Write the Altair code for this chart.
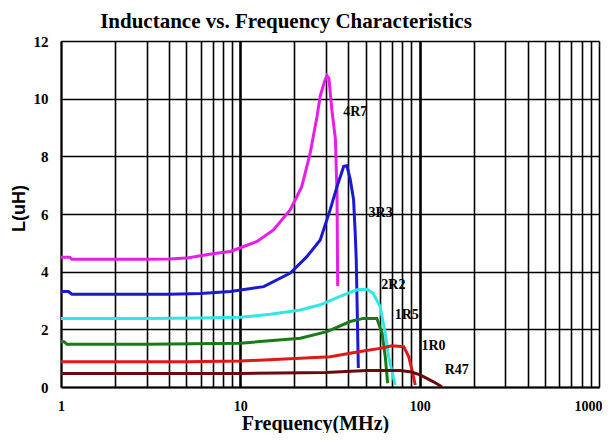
import altair as alt
import pandas as pd

# ---- data ----
series_names = ["4R7", "3R3", "2R2", "1R5", "1R0", "R47"]
series_colors = ["#e81ee8", "#1a1ad0", "#33e6e6", "#1a7a1a", "#e01818", "#6b0a0a"]

f_4r7 = [1, 1.12, 1.15, 2, 3, 4, 5, 6, 7, 8.8, 10, 12.4, 15.3, 19, 22, 24.5, 26.8, 27.9, 29.5, 30.4, 31.2, 32.4, 33.9, 34.6, 34.9]
L_4r7 = [4.5, 4.5, 4.43, 4.43, 4.43, 4.44, 4.47, 4.55, 4.62, 4.7, 4.83, 5.05, 5.45, 6.15, 6.95, 8.1, 9.4, 10.1, 10.6, 10.8, 10.7, 9.6, 8.6, 6.7, 3.5]

f_3r3 = [1, 1.1, 1.15, 2, 4, 6, 8.8, 13.5, 19, 23.5, 27.9, 31.7, 34.6, 37.7, 39.3, 41, 42.8, 43.7, 44.3, 45.5]
L_3r3 = [3.31, 3.31, 3.22, 3.22, 3.22, 3.24, 3.31, 3.48, 3.95, 4.52, 5.1, 6.15, 6.95, 7.65, 7.67, 7.2, 6.5, 5.35, 4.4, 0.66]

f_2r2 = [1, 3, 6, 10, 14.7, 21.6, 27.9, 36, 44.7, 50.8, 55, 60.2, 64.3, 67.1, 73]
L_2r2 = [2.38, 2.38, 2.39, 2.42, 2.52, 2.67, 2.85, 3.14, 3.37, 3.39, 3.25, 2.79, 1.86, 1.05, 0.07]

f_1r5 = [1, 1.04, 1.08, 3, 10, 21.6, 30.4, 41, 48.4, 57.7, 61.7, 64.3, 66.3]
L_1r5 = [1.57, 1.57, 1.48, 1.48, 1.52, 1.69, 1.92, 2.27, 2.38, 2.38, 1.86, 1.05, 0.13]

f_1r0 = [1, 5, 10, 21.6, 31.7, 46.6, 60.2, 70, 81.5, 86.9, 90.6, 94.5]
L_1r0 = [0.88, 0.88, 0.9, 1.0, 1.05, 1.23, 1.34, 1.43, 1.4, 1.05, 0.59, 0.07]

f_r47 = [1, 10, 30, 50.8, 78.1, 90, 100.6, 119.5, 133]
L_r47 = [0.47, 0.47, 0.5, 0.57, 0.57, 0.52, 0.42, 0.18, 0.01]

label_f = [43.7, 60.6, 71.4, 84.8, 119.4, 161]
label_L = [9.55, 6.04, 3.54, 2.5, 1.42, 0.59]

x_decades = [1, 10, 100, 1000]
y_ticks = [0, 2, 4, 6, 8, 10, 12]
x_grid = [m * d for d in [1, 10, 100] for m in range(1, 10)] + [1000]

# ---- build tables ----
rows = []
for name, fs, ls in zip(series_names,
                        [f_4r7, f_3r3, f_2r2, f_1r5, f_1r0, f_r47],
                        [L_4r7, L_3r3, L_2r2, L_1r5, L_1r0, L_r47]):
    for i, (f, l) in enumerate(zip(fs, ls)):
        rows.append({"series": name, "f": f, "L": l, "i": i})
df = pd.DataFrame(rows)
lab = pd.DataFrame({"series": series_names, "f": label_f, "L": label_L})

serif = "Liberation Serif"

x_scale = alt.Scale(type="log", domain=[1, 1000])
y_scale = alt.Scale(domain=[0, 12])

x_axis = alt.Axis(
    values=x_grid,
    labelExpr="datum.value == 1 || datum.value == 10 || datum.value == 100 || datum.value == 1000 ? format(datum.value, 'd') : ''",
    labelOverlap=False, labelFlush=False,
    labelFont=serif, labelFontSize=14, labelFontWeight="bold", labelColor="black",
    labelPadding=12, labelBaseline="top",
    labelOffset={"condition": {"test": "datum.value == 1000", "value": -11}, "value": 0},
    ticks=False,
    grid=True, gridColor="black",
    gridWidth={"condition": {"test": "datum.value == 10 || datum.value == 100", "value": 2.6}, "value": 1.6},
    domainColor="black", domainWidth=2,
    title="Frequency(MHz)", titleFont=serif, titleFontSize=20, titleFontWeight="bold",
    titleColor="black", titleX=254, titleY=42, titleBaseline="alphabetic",
)
y_axis = alt.Axis(
    values=y_ticks,
    labelFont=serif, labelFontSize=15, labelFontWeight="bold", labelColor="black",
    labelPadding=13, ticks=False,
    grid=True, gridColor="black", gridWidth=1.6,
    domainColor="black", domainWidth=2,
    title="L(uH)", titleFont="Liberation Sans", titleFontSize=18, titleFontWeight="bold",
    titleColor="black", titleX=-42, titleY=167, titleAngle=-90,
    titleAlign="center", titleBaseline="middle",
)

lines = alt.Chart(df).mark_line(strokeWidth=3, clip=True).encode(
    x=alt.X("f:Q", scale=x_scale, axis=x_axis),
    y=alt.Y("L:Q", scale=y_scale, axis=y_axis),
    color=alt.Color("series:N", scale=alt.Scale(domain=series_names, range=series_colors), legend=None),
    order=alt.Order("i:Q"),
)

labels = alt.Chart(lab).mark_text(font=serif, fontSize=14, fontWeight="bold", color="black").encode(
    x=alt.X("f:Q", scale=x_scale),
    y=alt.Y("L:Q", scale=y_scale),
    text="series:N",
)

chart = alt.layer(lines, labels).properties(
    width=538, height=346,
    autosize=alt.AutoSizeParams(type="none"),
    padding={"left": 53, "top": 33, "right": 3, "bottom": 46},
    title=alt.TitleParams(
        "Inductance vs. Frequency Characteristics",
        font=serif, fontSize=21, fontWeight="bold", color="black",
        anchor="middle", dx=-44, dy=8, offset=10,
    ),
).configure_view(stroke="#999999", strokeWidth=1.5).configure(background="white")

chart.save("out.html", embed_options={"renderer": "svg", "actions": False})
